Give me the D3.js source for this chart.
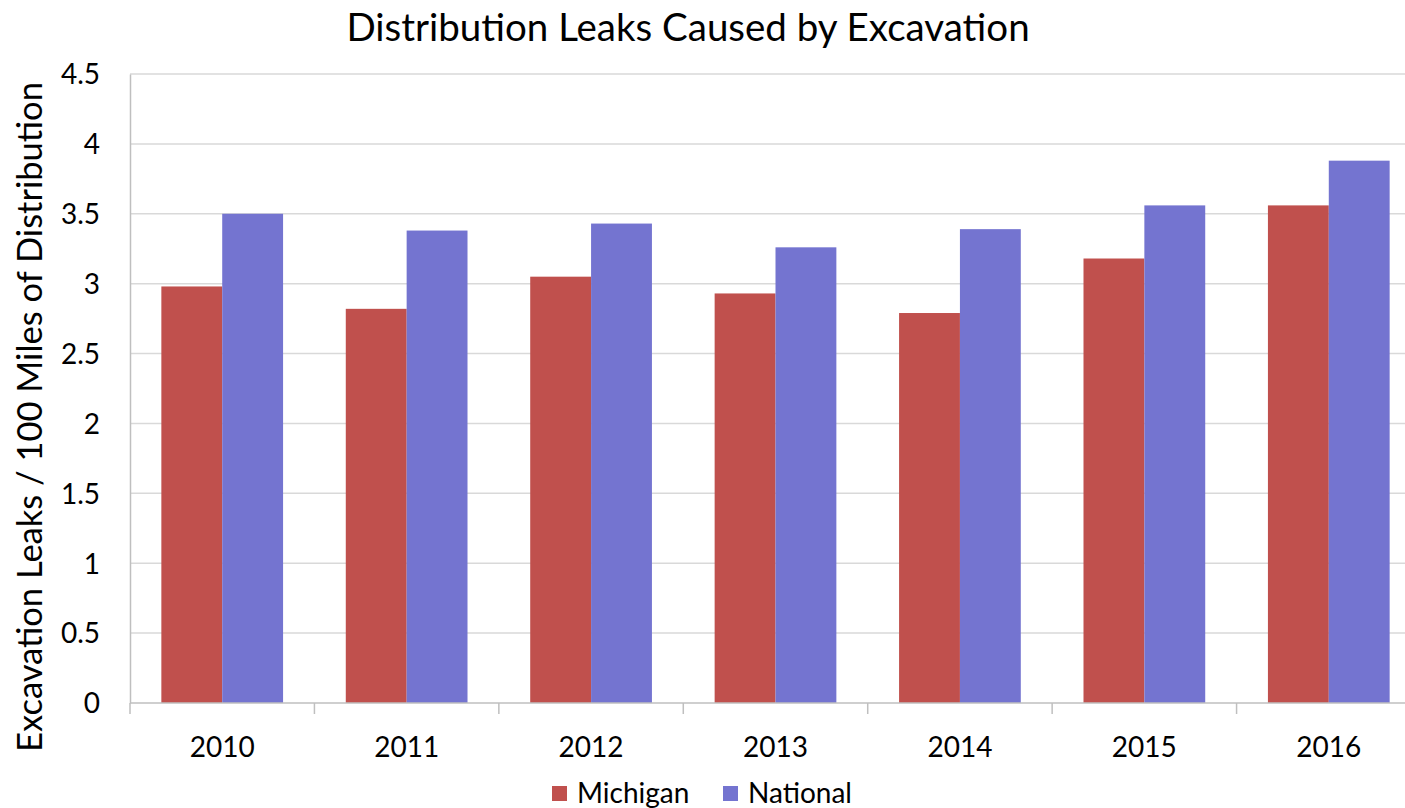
<!DOCTYPE html>
<html><head><meta charset="utf-8">
<script src="https://cdn.jsdelivr.net/npm/d3@7"></script>
<style>body{margin:0;background:#fff;}svg{display:block;font-family:Lato,"Open Sans",sans-serif;}</style>
</head><body>
<svg id="c" width="1405" height="808"></svg>
<script>
const years = ["2010","2011","2012","2013","2014","2015","2016"];
const michigan = [2.98, 2.82, 3.05, 2.93, 2.79, 3.18, 3.56];
const national = [3.50, 3.38, 3.43, 3.26, 3.39, 3.56, 3.88];
const yTicks = [0,0.5,1,1.5,2,2.5,3,3.5,4,4.5];
const seriesNames = ["Michigan","National"];
const colors = ["#C0504D","#7474D0"];

(function(){
const svg = d3.select("#c");
const pL = 130, pR = 1421, pT = 74, pB = 703;
const x = d3.scaleBand().domain(years).range([pL, pR]).paddingInner(0.34).paddingOuter(0.17);
const x1 = d3.scaleBand().domain(seriesNames).range([0, x.bandwidth()]);
const y = d3.scaleLinear().domain([0,4.5]).range([pB, pT]);

// gridlines
svg.append("g").selectAll("line").data(yTicks.slice(1)).join("line")
  .attr("x1", pL).attr("x2", pR).attr("y1", d=>y(d)).attr("y2", d=>y(d))
  .attr("stroke","#d9d9d9").attr("stroke-width",1.5);

// bars
const data = years.map((yr,i)=>({yr, vals:[michigan[i], national[i]]}));
const g = svg.append("g").selectAll("g").data(data).join("g")
  .attr("transform", d=>`translate(${x(d.yr)},0)`);
g.selectAll("rect").data(d=>d.vals.map((v,j)=>({v, s:seriesNames[j], c:colors[j]}))).join("rect")
  .attr("x", d=>x1(d.s)).attr("width", x1.bandwidth())
  .attr("y", d=>y(d.v)).attr("height", d=>y(0)-y(d.v)).attr("fill", d=>d.c);

// y axis
const ya = d3.axisLeft(y).tickValues(yTicks).tickSize(0).tickPadding(0).tickFormat(d=>String(d));
const yg = svg.append("g").attr("transform",`translate(${pL},0)`).call(ya);
yg.select(".domain").attr("stroke","#bfbfbf").attr("stroke-width",1.5);
yg.selectAll("text").attr("x",-30).attr("dy","0.35em").attr("font-size",28).attr("fill","#000").attr("font-family","Lato,'Open Sans',sans-serif");

// x axis
const boundaries = years.map(yr=>x(yr)-x.step()*x.paddingInner()/2);
const xg = svg.append("g");
xg.append("line").attr("x1",pL).attr("x2",pR).attr("y1",pB).attr("y2",pB).attr("stroke","#bfbfbf").attr("stroke-width",1.5);
xg.selectAll("line.t").data(boundaries).join("line").attr("class","t")
  .attr("x1",d=>d).attr("x2",d=>d).attr("y1",pB).attr("y2",pB+11).attr("stroke","#bfbfbf").attr("stroke-width",1.5);
xg.selectAll("text").data(years).join("text")
  .attr("x", d=>x(d)+x.bandwidth()/2).attr("y", 757).attr("text-anchor","middle")
  .attr("font-size",28).text(d=>d);

// title
svg.append("text").attr("x",688).attr("y",41).attr("text-anchor","middle").attr("font-size",38.5).text("Distribution Leaks Caused by Excavation");

// y label
svg.append("text").attr("transform","translate(42,417) rotate(-90)").attr("text-anchor","middle").attr("font-size",34.5)
  .text("Excavation Leaks / 100 Miles of Distribution");

// legend
const lg = svg.append("g");
const legX = [552, 723];
seriesNames.forEach((s,i)=>{
  lg.append("rect").attr("x",legX[i]).attr("y",786).attr("width",15).attr("height",15).attr("fill",colors[i]);
  lg.append("text").attr("x",legX[i]+25).attr("y",803).attr("font-size",28).text(s);
});
})();
</script>
</body></html>
